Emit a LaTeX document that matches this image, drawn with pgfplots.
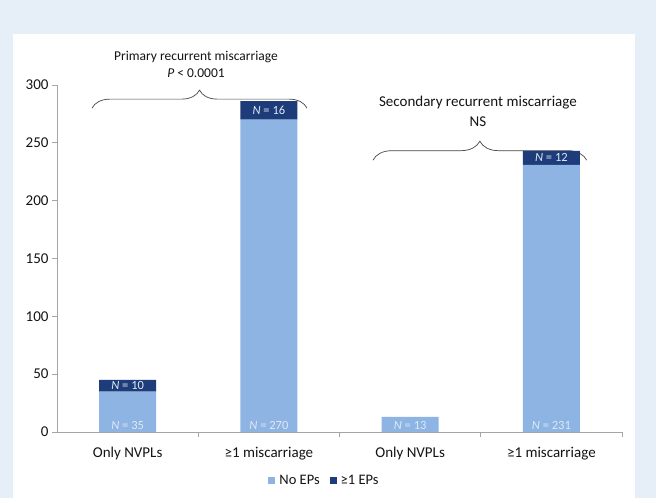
\documentclass[border=0pt]{standalone}
\usepackage{fontspec}
\setmainfont{Carlito}
\usepackage{pgfplots}
\pgfplotsset{compat=1.18}
\usetikzlibrary{decorations.pathreplacing}
\definecolor{bgblue}{RGB}{230,238,248}
\definecolor{lightbar}{RGB}{141,180,226}
\definecolor{darkbar}{RGB}{30,60,122}
\definecolor{axgray}{RGB}{165,165,165}
\definecolor{txt}{RGB}{20,20,20}
\definecolor{lbl}{RGB}{222,233,246}
\definecolor{brc}{RGB}{70,70,70}
\tikzset{nlbl/.style={font=\fontsize{12.5}{14}\selectfont, text=lbl}}
\begin{document}
\begin{tikzpicture}
\useasboundingbox (0pt,0pt) rectangle (656pt,498pt);
\fill[bgblue] (0pt,0pt) rectangle (656pt,498pt);
\fill[white] (13pt,0pt) rectangle (635pt,464pt);
\begin{axis}[
  at={(57pt,66pt)}, anchor=south west,
  scale only axis, width=565pt, height=347pt,
  xmin=-0.5, xmax=3.5, ymin=0, ymax=300,
  clip=false,
  axis x line*=bottom, axis y line*=left,
  axis line style={axgray, line width=0.8pt},
  ybar stacked, bar width=57pt,
  xtick={0,1,2,3},
  xticklabels={Only NVPLs, ≥1 miscarriage, Only NVPLs, ≥1 miscarriage},
  ytick={0,50,...,300},
  tick align=outside,
  major tick length=5pt,
  xtick style={draw=none},
  ytick style={draw=axgray, line width=0.8pt},
  extra x ticks={0.5,1.5,2.5,3.5},
  extra x tick labels={},
  extra x tick style={xtick style={draw=axgray, line width=0.8pt}},
  ticklabel style={font=\fontsize{15}{17}\selectfont, text=txt},
  xticklabel style={yshift=-7pt},
  /pgf/number format/assume math mode=true,
  legend style={at={(0.4735,-0.141)}, anchor=center, draw=none, fill=none,
    legend columns=2, font=\fontsize{14.5}{16}\selectfont, text=txt,
    /tikz/every odd column/.append style={column sep=2pt},
    /tikz/every even column/.append style={column sep=8pt}},
]
\addplot[fill=lightbar, draw=none,
  legend image code/.code={\fill[lightbar] (0pt,-3.5pt) rectangle (7pt,3.5pt);}]
  coordinates {(0,35) (1,270) (2,13) (3,231)};
\addlegendentry{No EPs}
\addplot[fill=darkbar, draw=none,
  legend image code/.code={\fill[darkbar] (0pt,-3.5pt) rectangle (7pt,3.5pt);}]
  coordinates {(0,10) (1,16) (2,0) (3,12)};
\addlegendentry{≥1 EPs}
\coordinate (a1) at (axis cs:0,6);
\coordinate (a2) at (axis cs:1,6);
\coordinate (a3) at (axis cs:2,6);
\coordinate (a4) at (axis cs:3,6);
\coordinate (b1) at (axis cs:0,40);
\coordinate (b2) at (axis cs:1,278);
\coordinate (b4) at (axis cs:3,237);
\draw[decorate, decoration={brace, amplitude=18pt}, brc, line width=0.7pt]
  (axis cs:-0.252,280) -- (axis cs:1.27,280);
\draw[decorate, decoration={brace, amplitude=19pt}, brc, line width=0.7pt]
  (axis cs:1.737,235) -- (axis cs:3.25,235);
\node[font=\fontsize{13.5}{15}\selectfont, text=txt] at (axis cs:0.484,324) {Primary recurrent miscarriage};
\node[font=\fontsize{13.5}{15}\selectfont, text=txt] at (axis cs:0.484,310) {\textit{P} < 0.0001};
\node[font=\fontsize{15}{17}\selectfont, text=txt] at (axis cs:2.48,284.4) {Secondary recurrent miscarriage};
\node[font=\fontsize{15}{17}\selectfont, text=txt] at (axis cs:2.48,268) {NS};
\end{axis}
\node[nlbl] at (a1) {\textit{N} = 35};
\node[nlbl] at (a2) {\textit{N} = 270};
\node[nlbl] at (a3) {\textit{N} = 13};
\node[nlbl] at (a4) {\textit{N} = 231};
\node[nlbl] at (b1) {\textit{N} = 10};
\node[nlbl] at (b2) {\textit{N} = 16};
\node[nlbl] at (b4) {\textit{N} = 12};
\end{tikzpicture}
\end{document}
